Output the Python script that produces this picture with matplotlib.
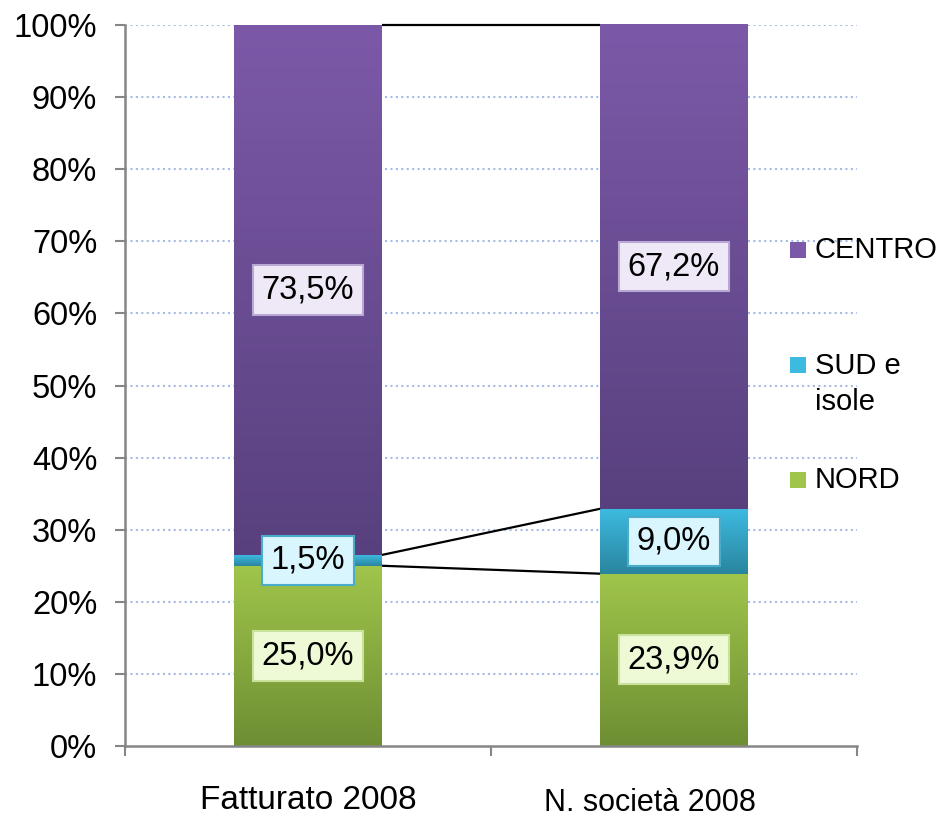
import numpy as np
import matplotlib
matplotlib.use("Agg")
import matplotlib.pyplot as plt
from matplotlib.colors import LinearSegmentedColormap
from matplotlib.patches import Rectangle

plt.rcParams['font.family'] = ['Liberation Sans', 'DejaVu Sans']

categories = ["Fatturato 2008", "N. società 2008"]
series = ["NORD", "SUD e\nisole", "CENTRO"]
nord = [25.0, 23.9]
sud = [1.5, 9.0]
centro = [73.5, 67.2]
labels_nord = ["25,0%", "23,9%"]
labels_sud = ["1,5%", "9,0%"]
labels_centro = ["73,5%", "67,2%"]
yticks = [0, 10, 20, 30, 40, 50, 60, 70, 80, 90, 100]
ytick_labels = [f"{v}%" for v in yticks]

# styles
grad = {
    "NORD": ("#A0C54B", "#6E8E33"),
    "SUD e\nisole": ("#3DBAE0", "#2A859F"),
    "CENTRO": ("#7C59A8", "#58407E"),
}
lab_style = {
    "NORD": (("#EEFAD6", "#DDF3B6"), "#C8E29A"),
    "SUD e\nisole": (("#D9F5FD", "#B5E8F6"), "#4AACCB"),
    "CENTRO": (("#EFE9F7", "#D9CDE9"), "#B9A7D4"),
}

fig = plt.figure(figsize=(9.45, 8.17), dpi=100)
ax = fig.add_axes([125/945, 71/817, 732/945, 721/817])
ax.set_xlim(-0.5, 1.5)
ax.set_ylim(0, 100)

width = 0.404
x = np.arange(len(categories))
data = [nord, sud, centro]
labs = [labels_nord, labels_sud, labels_centro]

bottoms = np.zeros(len(categories))
tops_all = []
for s, vals, lb in zip(series, data, labs):
    vals = np.array(vals)
    bars = ax.bar(x, vals, width, bottom=bottoms, color="none", edgecolor="none", zorder=2)
    top_c, bot_c = grad[s]
    cmap = LinearSegmentedColormap.from_list("g", [bot_c, top_c])
    for i, b in enumerate(bars):
        x0 = b.get_x(); x1 = x0 + b.get_width()
        y0 = b.get_y(); y1 = y0 + b.get_height()
        g = np.linspace(0, 1, 256).reshape(-1, 1)
        im = ax.imshow(g, cmap=cmap, origin="lower", extent=(x0, x1, y0, y1),
                       aspect="auto", zorder=2, interpolation="bicubic")
        im.set_clip_path(b)
    (fc_top, fc_bot), ec = lab_style[s]
    for i in range(len(categories)):
        ax.text(x[i], bottoms[i] + vals[i] / 2, lb[i], ha="center", va="center",
                fontsize=23.5, color="black", zorder=5,
                bbox=dict(boxstyle="square,pad=0.28", fc=fc_top, ec=ec, lw=1.5))
    bottoms = bottoms + vals
    tops_all.append(bottoms.copy())

# series lines connecting stacks
for tops in tops_all:
    ax.plot([x[0] + width / 2, x[1] - width / 2], [min(tops[0], 100), min(tops[1], 100)],
            color="black", lw=1.6, zorder=3, clip_on=False, solid_capstyle="butt")

ax.set_xlim(-0.5, 1.5)
ax.set_ylim(0, 100)

# grid
for v in yticks[1:]:
    ax.axhline(v, color="#A6BCE4", lw=1.5, ls=(0, (1, 1.6)), zorder=1)

ax.set_yticks(yticks)
ax.set_yticklabels(ytick_labels, fontsize=23.5)
ax.tick_params(axis="y", length=7, width=1.5, color="#868686", pad=13)
ax.set_xticks([-0.5, 0.5, 1.5])
ax.set_xticklabels([])
ax.tick_params(axis="x", length=7, width=1.5, color="#868686")
for sp in ["top", "right"]:
    ax.spines[sp].set_visible(False)
for sp in ["left", "bottom"]:
    ax.spines[sp].set_color("#868686")
    ax.spines[sp].set_linewidth(1.8)

# category labels
ax.text(x[0], -7.5, categories[0], ha="center", va="center", fontsize=24)
ax.text(x[1] - 0.066, -7.9, categories[1], ha="center", va="center", fontsize=22)

# legend
leg_items = [("CENTRO", 250), ("SUD e\nisole", 384), ("NORD", 480)]
for name, yc in leg_items:
    top_c, bot_c = grad[name]
    first_line_y = yc if "\n" not in name else yc - 19
    sq = Rectangle((790/945, 1 - (first_line_y + 8)/817), 16/945, 16/817,
                   transform=fig.transFigure, fc=top_c, ec="none")
    fig.patches.append(sq)
    fig.text(815/945, 1 - yc/817, name, ha="left", va="center", fontsize=21,
             linespacing=1.35)

fig.savefig("out.png", dpi=100)
